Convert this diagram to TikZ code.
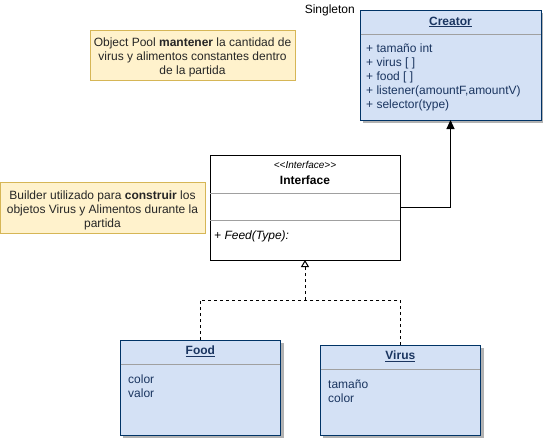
\documentclass[tikz,border=0pt]{standalone}
\usepackage{fontspec}
\setmainfont{Liberation Sans}
\usetikzlibrary{arrows.meta,shadows}
\definecolor{boxfill}{HTML}{D4E1F5}
\definecolor{boxline}{HTML}{003366}
\definecolor{boxtext}{HTML}{1A3560}
\definecolor{notefill}{HTML}{FFF2CC}
\definecolor{noteline}{HTML}{D6B656}
\definecolor{sepgray}{HTML}{A0A0A0}
\begin{document}
\begin{tikzpicture}[x=1pt,y=-1pt,
  base/.style={font=\fontsize{12}{14}\selectfont},
  classbox/.style={draw=boxline, fill=boxfill, line width=1pt, inner sep=0pt, outer sep=0pt, anchor=north west,
     drop shadow={shadow xshift=3pt, shadow yshift=-3pt, fill=black!30, opacity=1}},
  ifacebox/.style={draw=black, fill=white, line width=1pt, inner sep=0pt, outer sep=0pt, anchor=north west},
  notebox/.style={draw=noteline, fill=notefill, line width=1pt, inner sep=0pt, outer sep=0pt, anchor=north west},
  sepline/.style={draw=sepgray, line width=1pt},
  title/.style={base, font=\fontsize{12}{14}\selectfont\bfseries, text=boxtext},
  attrs/.style={base, text=boxtext, align=left, anchor=north west, inner sep=0pt},
  notetext/.style={base, align=center, text=black!85},
  realize/.style={dashed, dash pattern=on 3pt off 3pt, line width=1pt, -{Triangle[open, length=7pt, width=8pt, line width=1pt]}},
  assoc/.style={line width=1pt, -{Triangle[length=9pt, width=8pt]}}
]
\useasboundingbox (0,0) rectangle (543,439);

% Creator
\node[classbox, minimum width=181pt, minimum height=110pt] (creator) at (360,10) {};
\draw[sepline] (360.5,34) -- (540.5,34);
\node[title] (creatorT) at (450.5,22) {\underline{Creator}};
\node[attrs] (creatorA) at (366,43.5) {+ tamaño int\\+ virus [ ]\\+ food [ ]\\+ listener(amountF,amountV)\\+ selector(type)};
\node[base, anchor=east, inner sep=0pt] (single) at (355,10.5) {Singleton};

% Notes
\node[notebox, minimum width=205pt, minimum height=50pt] (pool) at (90,30) {};
\node[notetext] (poolT) at ([yshift=-2pt]pool.center) {Object Pool \textbf{mantener} la cantidad de\\virus y alimentos constantes dentro\\de la partida};
\node[notebox, minimum width=205pt, minimum height=51pt] (builder) at (0,182) {};
\node[notetext] (builderT) at ([yshift=-3pt]builder.center) {Builder utilizado para \textbf{construir} los\\objetos Virus y Alimentos durante la\\partida};

% Interface
\node[ifacebox, minimum width=190pt, minimum height=105pt] (iface) at (210,155) {};
\draw[sepline] (iface.west |- 0,193) -- (iface.east |- 0,193);
\draw[sepline] (iface.west |- 0,220) -- (iface.east |- 0,220);
\node[base, font=\fontsize{10}{12}\selectfont\itshape, inner sep=0pt] (stereo) at (305,165) {{<}{<}Interface{>}{>}};
\node[base, font=\fontsize{12}{14}\selectfont\bfseries, inner sep=0pt] (ifaceT) at (305,180.5) {Interface};
\node[base, font=\fontsize{12}{14}\selectfont\itshape, anchor=west, inner sep=0pt] (feed) at (214,236) {+ Feed(Type):};

% Food
\node[classbox, minimum width=160.7pt, minimum height=95pt] (food) at (120,340) {};
\draw[sepline] (120.5,364) -- (280.2,364);
\node[title] (foodT) at (food.north |- 0,351.5) {\underline{Food}};
\node[attrs] (foodA) at (128,374.5) {color\\valor};

% Virus
\node[classbox, minimum width=160.7pt, minimum height=90pt] (virus) at (320,345) {};
\draw[sepline] (320.5,369) -- (480.2,369);
\node[title] (virusT) at (virus.north |- 0,356.5) {\underline{Virus}};
\node[attrs] (virusA) at (328,379.5) {tamaño\\color};

% Connectors
\draw[assoc] (iface.east |- 0,207.5) -| (creator.south);
\coordinate (junc) at (iface.south |- 0,300);
\draw[line width=1pt, dashed, dash pattern=on 3pt off 3pt] (food.north) |- (junc);
\draw[line width=1pt, dashed, dash pattern=on 3pt off 3pt] (virus.north) |- (junc);
\draw[realize] (junc) -- (iface.south);
\end{tikzpicture}
\end{document}
